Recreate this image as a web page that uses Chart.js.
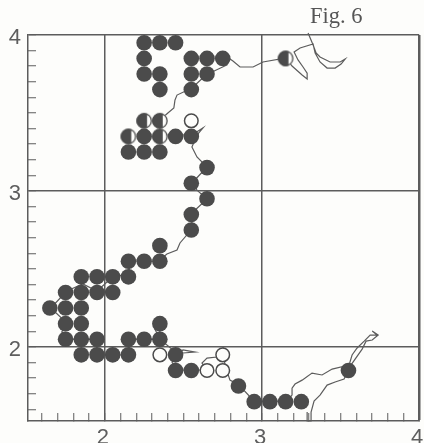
<!DOCTYPE html>
<html>
<head>
<meta charset="utf-8">
<style>
  html, body { margin: 0; padding: 0; background: #fdfdfb; }
  #wrap { position: relative; width: 424px; height: 443px; overflow: hidden; }
  #fig { position: absolute; left: 310px; top: 4px; font: 22.5px/24px "Liberation Serif", serif; color: #555; }
  canvas { display: block; }
</style>
</head>
<body>
<div id="wrap">
  <!-- 4px wider than the page: Chart.js keeps 9px free on the right for the dots -->
  <canvas id="chart" width="428" height="443"></canvas>
  <div id="fig">Fig. 6</div>
</div>
<script src="https://cdn.jsdelivr.net/npm/chart.js@4"></script>
<script>
const xTicks = [1.6, 1.7, 1.8, 1.9, 2, 2.1, 2.2, 2.3, 2.4, 2.5, 2.6, 2.7, 2.8, 2.9, 3, 3.1, 3.2, 3.3, 3.4, 3.5, 3.6, 3.7, 3.8, 3.9, 4];
const yTicks = [1.6, 1.7, 1.8, 1.9, 2, 2.1, 2.2, 2.3, 2.4, 2.5, 2.6, 2.7, 2.8, 2.9, 3, 3.1, 3.2, 3.3, 3.4, 3.5, 3.6, 3.7, 3.8, 3.9, 4];

// filled dots
const fullX = [2.25, 2.35, 2.45, 2.25, 2.55, 2.65, 2.75, 2.25, 2.35, 2.55, 2.65, 2.35, 2.55,
  2.25, 2.45, 2.55, 2.15, 2.25, 2.35, 2.65, 2.55, 2.65, 2.55, 2.55, 2.35, 2.15, 2.25, 2.35,
  1.85, 1.95, 2.05, 2.15, 1.75, 1.85, 1.95, 2.05, 1.65, 1.75, 1.85, 1.75, 1.85, 2.35,
  1.75, 1.85, 1.95, 2.15, 2.25, 2.35, 1.85, 1.95, 2.05, 2.15, 2.45, 2.45, 2.55,
  2.85, 2.95, 3.05, 3.15, 3.25, 3.55];
const fullY = [3.95, 3.95, 3.95, 3.85, 3.85, 3.85, 3.85, 3.75, 3.75, 3.75, 3.75, 3.65, 3.65,
  3.35, 3.35, 3.35, 3.25, 3.25, 3.25, 3.15, 3.05, 2.95, 2.85, 2.75, 2.65, 2.55, 2.55, 2.55,
  2.45, 2.45, 2.45, 2.45, 2.35, 2.35, 2.35, 2.35, 2.25, 2.25, 2.25, 2.15, 2.15, 2.15,
  2.05, 2.05, 2.05, 2.05, 2.05, 2.05, 1.95, 1.95, 1.95, 1.95, 1.95, 1.85, 1.85,
  1.75, 1.65, 1.65, 1.65, 1.65, 1.85];

// half filled dots
const halfX = [3.15, 2.25, 2.35, 2.15, 2.35];
const halfY = [3.85, 3.45, 3.45, 3.35, 3.35];

// open dots
const openX = [2.55, 2.35, 2.75, 2.65, 2.75];
const openY = [3.45, 1.95, 1.95, 1.85, 1.85];

// coast outline
const coastX = [3.293, 3.325, 3.344, 3.369, 3.433, 3.497, 3.529, 3.503, 3.465, 3.414, 3.369, 3.338, 3.325, 3.242, 3.204, 3.229,
  3.261, 3.287, 3.287, 3.255, 3.191, 3.153, 3.006, 2.943, 2.860, 2.815, 2.777, 2.777, 2.682, 2.650, 2.554, 2.459,
  2.446, 2.439, 2.401, 2.350, 2.350, 2.554, 2.624, 2.586, 2.554, 2.586, 2.650, 2.561, 2.586, 2.650, 2.554, 2.554,
  2.478, 2.459, 2.395, 2.350, 2.159, 2.153, 2.051, 2.000, 1.949, 1.860, 1.758, 1.656, 1.758, 1.726, 1.758, 1.949,
  1.949, 2.153, 2.159, 2.350, 2.318, 2.350, 2.350, 2.433, 2.459, 2.497, 2.573, 2.497, 2.459, 2.427, 2.459, 2.554,
  2.650, 2.618, 2.650, 2.713, 2.752, 2.764, 2.796, 2.854, 2.949, 3.153, 3.191, 3.191, 3.210, 3.255, 3.318, 3.382,
  3.446, 3.554, 3.573, 3.605, 3.650, 3.688, 3.732, 3.701, 3.739, 3.701, 3.662, 3.637, 3.561, 3.522, 3.465, 3.414,
  3.369, 3.331, 3.312, 3.312, 3.287, 3.287];
const coastY = [4.013, 3.936, 3.885, 3.859, 3.827, 3.827, 3.846, 3.814, 3.788, 3.788, 3.827, 3.885, 3.942, 3.917, 3.891, 3.840,
  3.795, 3.756, 3.718, 3.744, 3.801, 3.853, 3.827, 3.795, 3.795, 3.833, 3.859, 3.808, 3.763, 3.750, 3.660, 3.615,
  3.583, 3.532, 3.500, 3.455, 3.359, 3.359, 3.404, 3.359, 3.282, 3.218, 3.154, 3.058, 3.006, 2.949, 2.859, 2.756,
  2.667, 2.622, 2.596, 2.558, 2.558, 2.462, 2.455, 2.404, 2.359, 2.404, 2.359, 2.250, 2.154, 2.096, 2.051, 2.051,
  1.949, 1.949, 2.051, 2.051, 2.115, 2.154, 2.051, 1.981, 1.949, 1.981, 1.968, 1.962, 1.949, 1.904, 1.853, 1.853,
  1.853, 1.897, 1.929, 1.936, 1.994, 1.885, 1.788, 1.756, 1.654, 1.654, 1.692, 1.737, 1.763, 1.788, 1.833, 1.821,
  1.859, 1.885, 1.949, 1.994, 2.038, 2.077, 2.077, 2.103, 2.077, 2.045, 2.038, 1.987, 1.878, 1.795, 1.776, 1.756,
  1.692, 1.654, 1.583, 1.526, 1.526, 1.583];

const ink = "#4b4b4b";
const lineInk = "#5c5c5c";
const paper = "#fdfdfb";
const dotRadius = 7.8;

const toPoints = (xs, ys) => xs.map((x, i) => ({ x: x, y: ys[i] }));

// left part dark, right part paper
function halfDot() {
  const c = document.createElement("canvas");
  c.width = 18;
  c.height = 18;
  const g = c.getContext("2d");
  g.fillStyle = paper;
  g.beginPath();
  g.arc(9, 9, dotRadius, 0, Math.PI * 2);
  g.fill();
  g.fillStyle = ink;
  g.beginPath();
  g.arc(9, 9, dotRadius, Math.PI * 0.38, Math.PI * 1.62);
  g.closePath();
  g.fill();
  g.strokeStyle = ink;
  g.lineWidth = 1.3;
  g.beginPath();
  g.arc(9, 9, dotRadius - 0.6, 0, Math.PI * 2);
  g.stroke();
  return c;
}

function axis(position, min, max, tickValues, size) {
  const vertical = position === "left";
  return {
    type: "linear",
    position: position,
    min: min,
    max: max,
    afterBuildTicks: s => { s.ticks = tickValues.map(v => ({ value: v })); },
    afterFit: s => {
      if (vertical) s.width = size; else s.height = size;
      // labels may hang over the plot edge, keep the plot box fixed
      s.paddingLeft = s.paddingRight = s.paddingTop = s.paddingBottom = 0;
    },
    border: { color: lineInk, width: 1.5 },
    grid: {
      color: c => (Number.isInteger(c.tick.value) ? lineInk : "transparent"),
      lineWidth: c => (c.tick.value === 4 ? (vertical ? 1.5 : 2.5) : 1.5),
      tickColor: lineInk,
      tickWidth: 1,
      tickLength: -8,
    },
    ticks: {
      autoSkip: false,
      maxRotation: 0,
      padding: vertical ? 15 : 12,
      labelOffset: vertical ? 3 : -2,
      color: "#5e5e5e",
      font: { family: "'Liberation Sans', sans-serif", size: 22 },
      callback: v => (Number.isInteger(v) ? String(v) : ""),
    },
  };
}

new Chart(document.getElementById("chart").getContext("2d"), {
  type: "scatter",
  data: {
    datasets: [
      { data: toPoints(fullX, fullY), backgroundColor: ink, borderColor: ink, borderWidth: 0, pointRadius: dotRadius },
      { data: toPoints(halfX, halfY), pointStyle: halfDot(), pointRadius: dotRadius },
      { data: toPoints(openX, openY), backgroundColor: paper, borderColor: ink, borderWidth: 1.5, pointRadius: 6.8 },
      { data: toPoints(coastX, coastY), showLine: true, pointRadius: 0, borderColor: lineInk, borderWidth: 1.2, clip: false },
    ],
  },
  options: {
    responsive: false,
    animation: false,
    layout: { padding: { top: 35, right: 1, left: 0, bottom: 0 } },
    plugins: { legend: { display: false }, tooltip: { enabled: false } },
    scales: {
      x: axis("bottom", 1.511, 4, xTicks, 22),
      y: axis("left", 1.526, 4, yTicks, 28),
    },
  },
});
</script>
</body>
</html>
